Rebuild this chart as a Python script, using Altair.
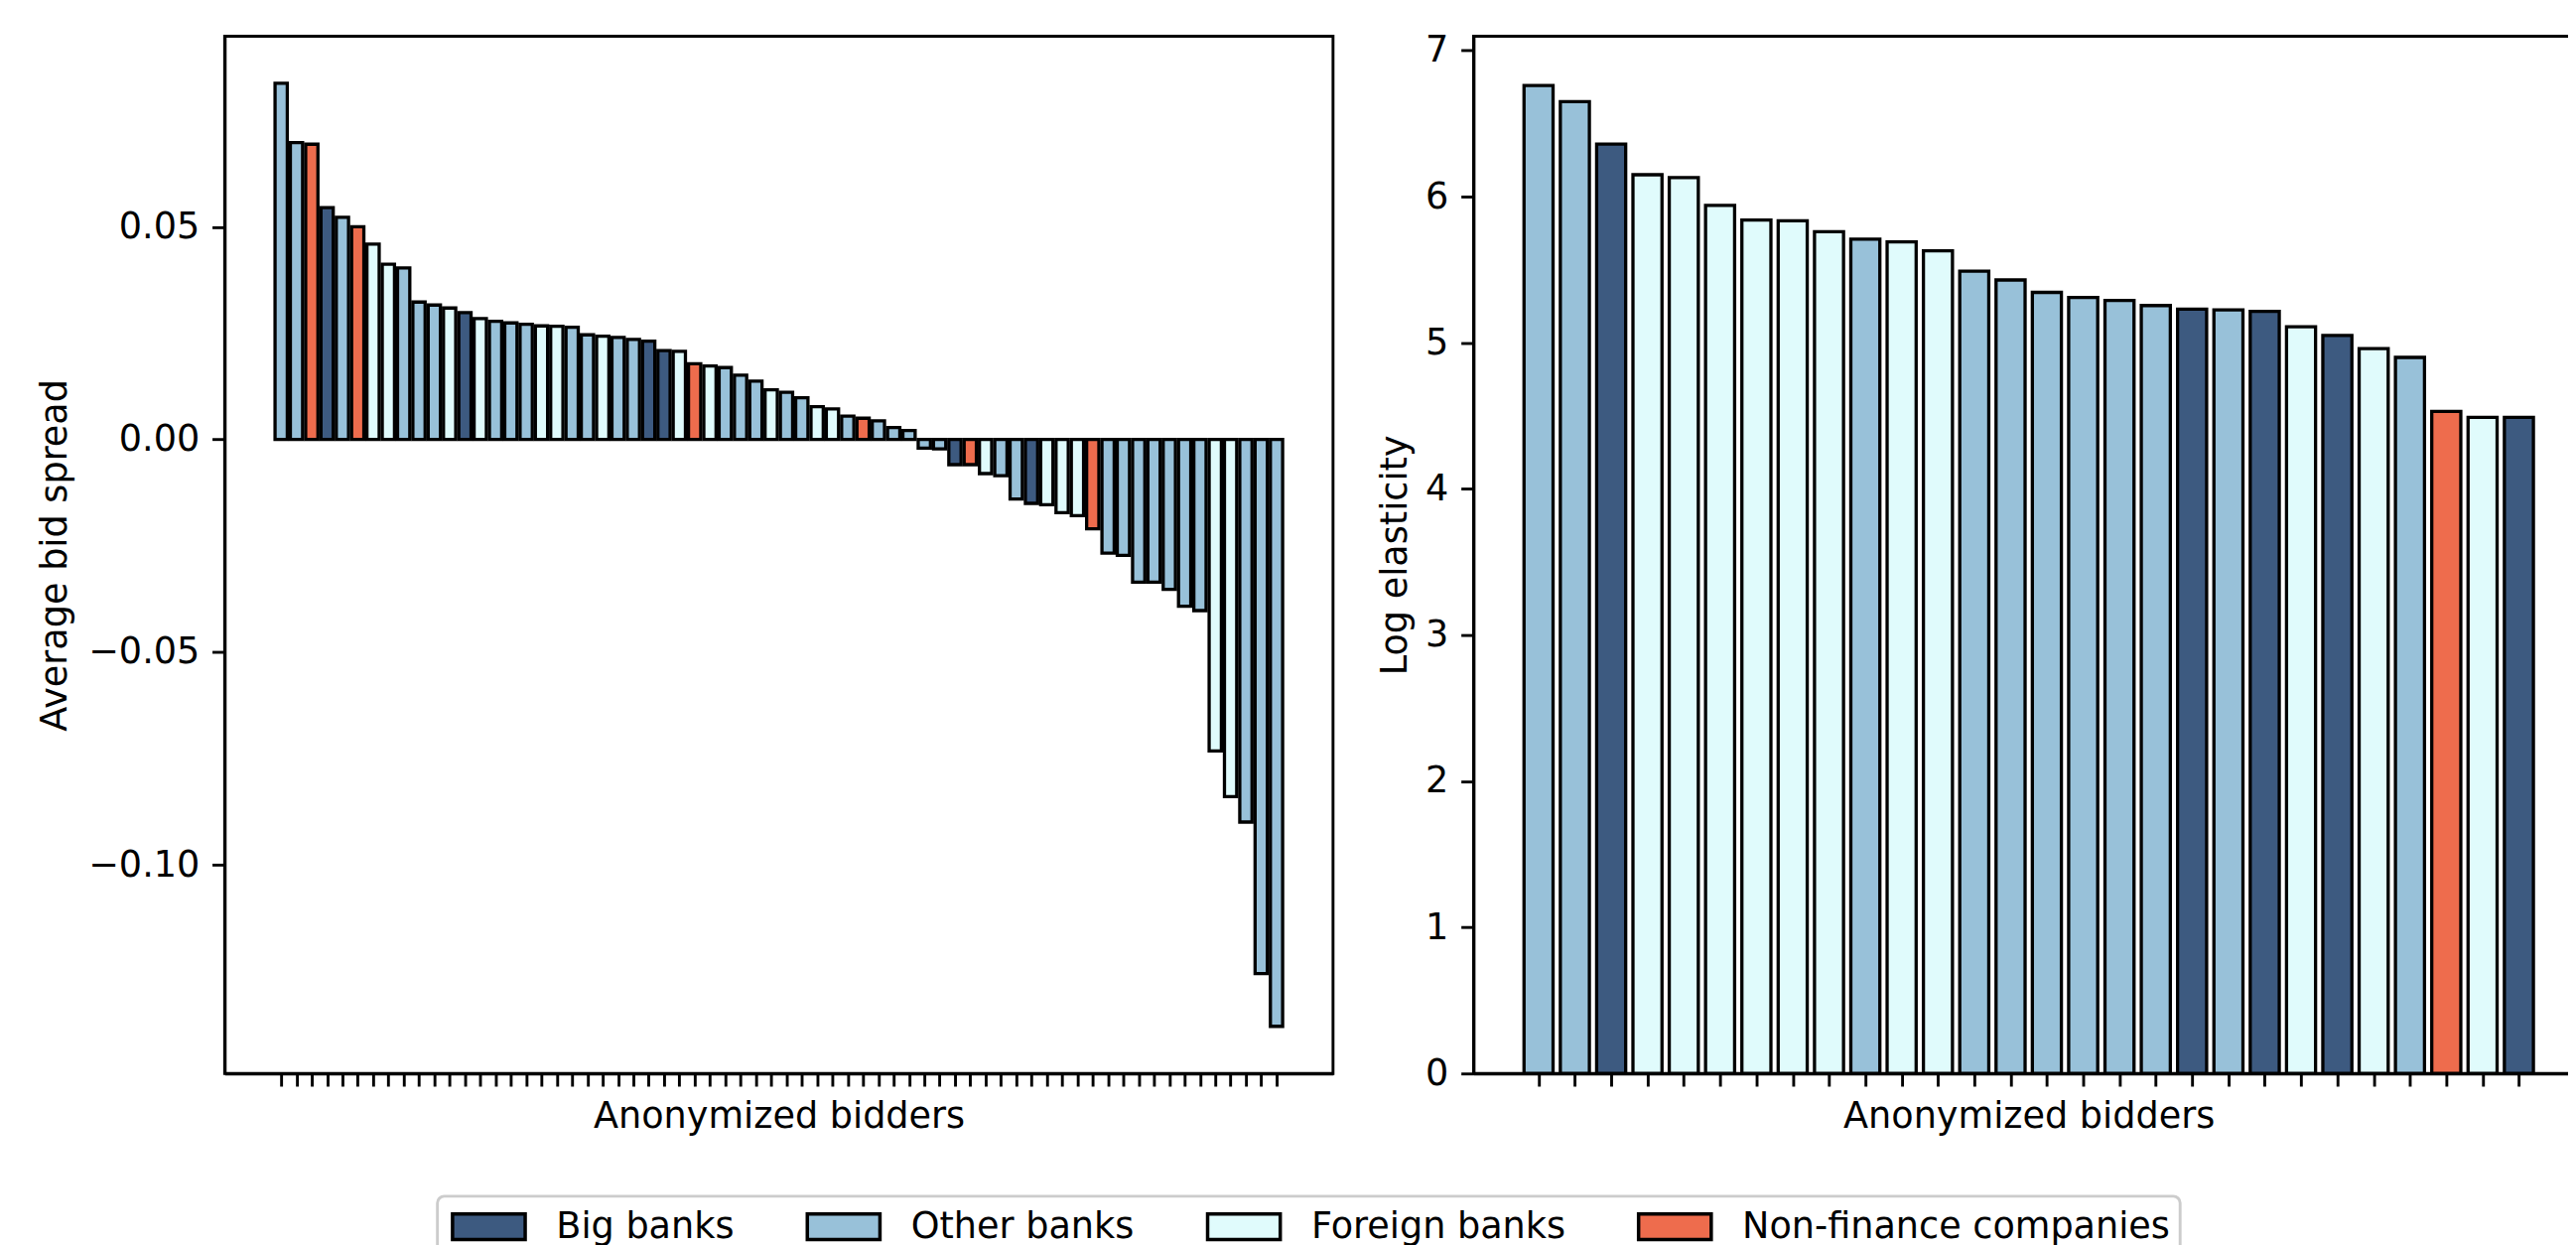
import altair as alt
import pandas as pd

cat_names = ["Big banks", "Other banks", "Foreign banks", "Non-finance companies"]
cat_colors = ["#3d5a80", "#98c1d9", "#e0fbfc", "#ee6c4d"]
code_names = {"B": "Big banks", "O": "Other banks", "F": "Foreign banks", "N": "Non-finance companies"}

spread_types = ["O", "O", "N", "B", "O", "N", "F", "F", "O", "O",
                "O", "F", "B", "F", "O", "O", "O", "F", "F", "O",
                "O", "F", "O", "O", "B", "B", "F", "N", "F", "O",
                "O", "O", "F", "O", "O", "F", "F", "O", "N", "O",
                "O", "O", "O", "O", "B", "N", "F", "O", "O", "B",
                "F", "F", "F", "N", "O", "O", "O", "O", "O", "O",
                "O", "F", "F", "O", "O", "O"]
spread_values = [0.0837, 0.0698, 0.0694, 0.0545, 0.0522, 0.0500, 0.0459, 0.0412, 0.0403, 0.0323,
                 0.0316, 0.0309, 0.0298, 0.0284, 0.0278, 0.0274, 0.0271, 0.0267, 0.0266, 0.0264,
                 0.0246, 0.0243, 0.0240, 0.0235, 0.0231, 0.0209, 0.0207, 0.0178, 0.0173, 0.0169,
                 0.0151, 0.0137, 0.0117, 0.0111, 0.0098, 0.0077, 0.0072, 0.0055, 0.0050, 0.0044,
                 0.0028, 0.0021, -0.0020, -0.0022, -0.0059, -0.0059, -0.0080, -0.0085, -0.0140, -0.0150,
                 -0.0153, -0.0172, -0.0179, -0.0210, -0.0267, -0.0272, -0.0335, -0.0335, -0.0352, -0.0392,
                 -0.0402, -0.0732, -0.0839, -0.0899, -0.1255, -0.1379]

elast_types = ["O", "O", "B", "F", "F", "F", "F", "F", "F", "O",
               "F", "F", "O", "O", "O", "O", "O", "O", "B", "O",
               "B", "F", "B", "F", "O", "N", "F", "B"]
elast_values = [6.76, 6.65, 6.36, 6.15, 6.13, 5.94, 5.84, 5.835, 5.76, 5.71,
                5.69, 5.63, 5.49, 5.43, 5.345, 5.31, 5.29, 5.255, 5.23, 5.225,
                5.215, 5.11, 5.05, 4.96, 4.90, 4.53, 4.49, 4.49]

FONT = "DejaVu Sans"
FS = 36.7
LW = 2.9
HALF = 0.4  # half bar width in bidder units

spread_df = pd.DataFrame({
    "bidder": list(range(len(spread_values))),
    "value": spread_values,
    "type": [code_names[c] for c in spread_types],
})
elast_df = pd.DataFrame({
    "bidder": list(range(len(elast_values))),
    "value": elast_values,
    "type": [code_names[c] for c in elast_types],
})

lo, hi = min(spread_values), max(spread_values)
span = hi - lo
spread_domain = [lo - 0.05 * span, hi + 0.05 * span]
elast_domain = [0, max(elast_values) * 1.05]

legend = alt.Legend(
    orient="none", legendX=215, legendY=1172, direction="horizontal", columns=4,
    title=None, symbolType="M-0.83,-0.7H3.17V0.7H-0.83Z", symbolSize=1347,
    symbolStrokeColor="black", symbolStrokeWidth=3.5, symbolOpacity=1,
    labelFont=FONT, labelFontSize=FS, labelColor="black", labelOffset=69,
    columnPadding=66.5, padding=10, fillColor="white", strokeColor="#cccccc",
    labelLimit=1000,
)
color = alt.Color("type:N", scale=alt.Scale(domain=cat_names, range=cat_colors), legend=legend)


def panel(df, n, domain, ticks, fmt, ytitle, tpad, width):
    m = 0.05 * (n - 1 + 2 * HALF)
    xdom = [-HALF - m, n - 1 + HALF + m]
    return alt.Chart(df).transform_calculate(
        x0=f"datum.bidder - {HALF}", x1=f"datum.bidder + {HALF}"
    ).mark_bar(stroke="black", strokeWidth=3.3).encode(
        x=alt.X("x0:Q", scale=alt.Scale(domain=xdom, nice=False, zero=False),
                axis=alt.Axis(values=list(range(n)), labels=False, title="Anonymized bidders",
                              titlePadding=11)),
        x2="x1:Q",
        y=alt.Y("value:Q", stack=None, scale=alt.Scale(domain=domain, nice=False, zero=False),
                axis=alt.Axis(values=ticks, format=fmt, title=ytitle, titlePadding=tpad)),
        y2=alt.datum(0),
        color=color,
    ).properties(width=width, height=1048)


left = panel(spread_df, len(spread_values), spread_domain, [-0.10, -0.05, 0.0, 0.05], ".2f",
             "Average bid spread", 14, 1120)
right = panel(elast_df, len(elast_values), elast_domain, [0, 1, 2, 3, 4, 5, 6, 7], "d",
              "Log elasticity", 11, 1122)

chart = alt.hconcat(left, right, spacing=142, bounds="flush").properties(
    autosize=alt.AutoSizeParams(type="none"),
    padding={"left": 219, "top": 25, "right": 2368, "bottom": 1221},
    background="white",
).configure_axis(
    domainColor="black", domainWidth=LW, tickColor="black", tickWidth=LW, tickSize=12.8,
    labelPadding=12.8, labelFont=FONT, labelFontSize=FS, labelColor="black",
    titleFont=FONT, titleFontSize=FS, titleFontWeight="normal", titleColor="black", grid=False,
).configure_legend(
    strokeWidth=LW, cornerRadius=7,
).configure_view(stroke="black", strokeWidth=LW)

chart.save("out.html", embed_options={"renderer": "svg", "actions": False})
